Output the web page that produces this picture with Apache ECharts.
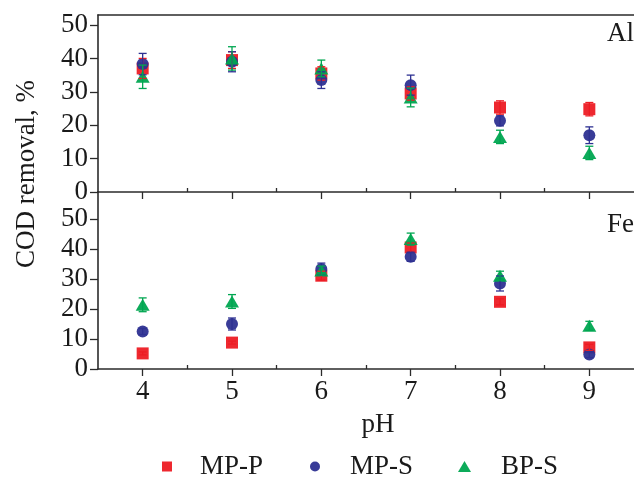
<!DOCTYPE html>
<html><head><meta charset="utf-8">
<script src="https://cdn.jsdelivr.net/npm/echarts@6/dist/echarts.min.js"></script>
<style>html,body{margin:0;padding:0;background:#fff}#c{width:634px;height:480px}</style>
</head><body><div id="c"></div>
<script>
const pH = [4, 5, 6, 7, 8, 9];
const xTicks = [4, 5, 6, 7, 8, 9];
const xMinorTicks = [4.5, 5.5, 6.5, 7.5, 8.5];
const yTicks = [0, 10, 20, 30, 40, 50];
const yMinorTop = [5, 15, 25, 35, 45];
const yMinorBottom = [5, 15, 25, 35, 45, 55];
const seriesNames = ['MP-P', 'MP-S', 'BP-S'];

// Al panel (top)
const alMPP = [37.0, 39.5, 35.5, 29.5, 25.3, 24.8];
const alMPPerr = [3.0, 2.5, 2.0, 2.0, 2.0, 2.0];
const alMPS = [38.3, 39.0, 33.5, 32.0, 21.3, 17.0];
const alMPSerr = [3.2, 3.0, 2.5, 3.0, 1.5, 2.5];
const alBPS = [34.5, 40.0, 37.0, 28.3, 16.5, 11.7];
const alBPSerr = [3.5, 3.5, 2.5, 2.8, 2.0, 2.0];

// Fe panel (bottom)
const feMPP = [5.2, 8.8, 31.1, 40.5, 22.4, 7.2];
const feMPPerr = [0.5, 0.5, 1.5, 1.5, 1.0, 1.0];
const feMPS = [12.5, 15.0, 33.3, 37.4, 28.5, 4.8];
const feMPSerr = [1.0, 2.0, 2.0, 1.5, 2.5, 1.0];
const feBPS = [21.4, 22.5, 32.8, 43.3, 31.1, 14.4];
const feBPSerr = [2.3, 2.3, 1.5, 2.0, 1.5, 1.5];

const colors = ['#ED1C24', '#2E3192', '#00A651'];
const symbols = ['rect', 'circle', 'triangle'];
const symSizes = [12, 12, [14, 12]];
const FONT = 'Liberation Serif';
const AX = '#2b2b2b';
const TXT = '#1a1a1a';

const chart = echarts.init(document.getElementById('c'));

function pts(vals) { return pH.map((x, i) => [x, vals[i]]); }
function errPts(vals, errs) { return pH.map((x, i) => [x, vals[i] - errs[i], vals[i] + errs[i]]); }

function errRender(color) {
  return function (params, api) {
    const x = api.value(0);
    const lo = api.coord([x, api.value(1)]);
    const hi = api.coord([x, api.value(2)]);
    const w = 4;
    const st = { stroke: color, lineWidth: 1.3 };
    return {
      type: 'group',
      children: [
        { type: 'line', shape: { x1: lo[0], y1: lo[1], x2: hi[0], y2: hi[1] }, style: st },
        { type: 'line', shape: { x1: lo[0] - w, y1: lo[1], x2: lo[0] + w, y2: lo[1] }, style: st },
        { type: 'line', shape: { x1: hi[0] - w, y1: hi[1], x2: hi[0] + w, y2: hi[1] }, style: st }
      ]
    };
  };
}

const panels = [
  { xi: 0, yi: 0, vals: [alMPP, alMPS, alBPS], errs: [alMPPerr, alMPSerr, alBPSerr] },
  { xi: 3, yi: 2, vals: [feMPP, feMPS, feBPS], errs: [feMPPerr, feMPSerr, feBPSerr] }
];
const series = [];
panels.forEach(p => {
  for (let k = 0; k < 3; k++) {
    series.push({
      name: seriesNames[k], type: 'scatter', xAxisIndex: p.xi, yAxisIndex: p.yi,
      symbol: symbols[k], symbolSize: symSizes[k],
      itemStyle: { color: colors[k], opacity: 0.95 },
      data: pts(p.vals[k]), z: 2
    });
  }
  for (let k = 0; k < 3; k++) {
    series.push({
      name: seriesNames[k], type: 'custom', xAxisIndex: p.xi, yAxisIndex: p.yi,
      renderItem: errRender(colors[k]), data: errPts(p.vals[k], p.errs[k]),
      encode: { x: 0, y: [1, 2] }, z: 3, silent: true
    });
  }
});

function xAx(grid, opts) {
  return Object.assign({
    type: 'value', gridIndex: grid, min: 3.5, max: 9.5, interval: 0.5,
    splitLine: { show: false },
    axisLine: { show: true, onZero: false, lineStyle: { color: AX, width: 1.6 } },
    axisTick: { show: true, inside: false, length: 7, customValues: xTicks, lineStyle: { color: AX, width: 1.3 } },
    axisLabel: { show: false }
  }, opts);
}
function yAx(grid, max, opts) {
  return Object.assign({
    type: 'value', gridIndex: grid, min: 0, max: max, interval: 5,
    splitLine: { show: false },
    axisLine: { show: true, onZero: false, lineStyle: { color: AX, width: 1.6 } },
    axisTick: { show: true, inside: false, length: 8, customValues: yTicks, lineStyle: { color: AX, width: 1.3 } },
    axisLabel: { show: true, customValues: yTicks, margin: 10, color: TXT, fontFamily: FONT, fontSize: 27 }
  }, opts);
}
const minorTickX = { show: true, inside: false, length: 4, customValues: xMinorTicks, lineStyle: { color: AX, width: 1.3 } };

function legendFor(k, left, pad) {
  return {
    data: [{ name: seriesNames[k], icon: symbols[k] }],
    left: left, top: 448, itemWidth: k === 2 ? 13 : 10, itemHeight: k === 2 ? 11 : 10,
    selectedMode: false,
    textStyle: { fontFamily: FONT, fontSize: 27, color: TXT, padding: [0, 0, 0, pad] }
  };
}

chart.setOption({
  animation: false,
  grid: [
    { left: 98, top: 15, width: 540, height: 177 },
    { left: 98, top: 192, width: 540, height: 177 }
  ],
  xAxis: [
    xAx(0, {}),
    xAx(0, { axisLine: { show: false }, axisTick: minorTickX }),
    xAx(0, { position: 'top', axisTick: { show: false } }),
    xAx(1, {
      axisLabel: { show: true, customValues: xTicks, margin: 9, color: TXT, fontFamily: FONT, fontSize: 27 },
      name: 'pH', nameLocation: 'middle', nameGap: 42,
      nameTextStyle: { fontFamily: FONT, fontSize: 27, color: TXT, padding: [0, 0, 0, 24] }
    }),
    xAx(1, { axisLine: { show: false }, axisTick: minorTickX })
  ],
  yAxis: [
    yAx(0, 53, {}),
    yAx(0, 53, { axisLine: { show: false }, axisLabel: { show: false },
      axisTick: { show: true, inside: false, length: 4, customValues: yMinorTop, lineStyle: { color: AX, width: 1.3 } } }),
    yAx(1, 59, {}),
    yAx(1, 59, { axisLine: { show: false }, axisLabel: { show: false },
      axisTick: { show: true, inside: false, length: 4, customValues: yMinorBottom, lineStyle: { color: AX, width: 1.3 } } })
  ],
  legend: [legendFor(0, 157, 23), legendFor(1, 305, 25), legendFor(2, 453, 25)],
  graphic: [
    { type: 'text', x: 27, y: 174, rotation: Math.PI / 2,
      style: { text: 'COD removal, %', font: '27px "' + FONT + '"', fill: TXT, textAlign: 'center', textVerticalAlign: 'middle' } },
    { type: 'text', x: 607, y: 34,
      style: { text: 'Al', font: '27px "' + FONT + '"', fill: TXT, textAlign: 'left', textVerticalAlign: 'middle' } },
    { type: 'text', x: 607, y: 225,
      style: { text: 'Fe', font: '27px "' + FONT + '"', fill: TXT, textAlign: 'left', textVerticalAlign: 'middle' } }
  ],
  series: series
});
</script>
</body></html>
